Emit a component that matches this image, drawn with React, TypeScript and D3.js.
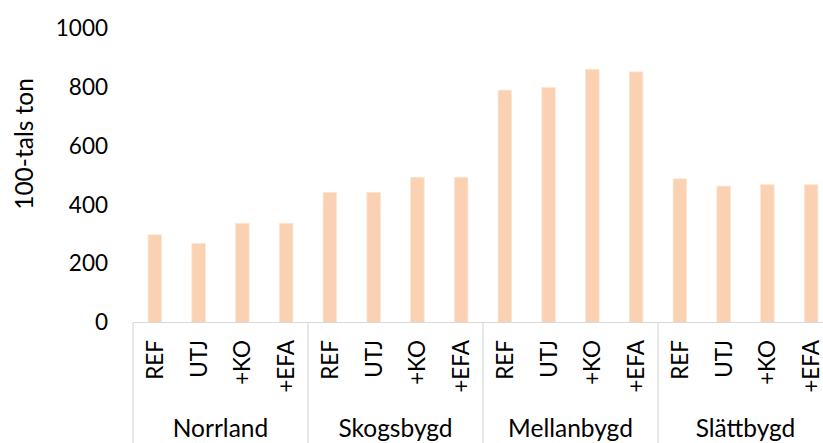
import React from "react";
import * as d3 from "d3";

const groups = ["Norrland", "Skogsbygd", "Mellanbygd", "Slättbygd"];
const scenarios = ["REF", "UTJ", "+KO", "+EFA"];
const norrland = [298, 268, 337, 337];
const skogsbygd = [442, 442, 493, 493];
const mellanbygd = [789, 798, 860, 851];
const slattbygd = [488, 463, 468, 468];
const seriesValues = [norrland, skogsbygd, mellanbygd, slattbygd];
const yTicks = [0, 200, 400, 600, 800, 1000];
const yTitle = "100-tals ton";

const W = 823;
const H = 443;
const FONT = "Lato, 'Open Sans', sans-serif";

export default function App() {
  const left = 133;
  const right = 833;
  const y = d3.scaleLinear().domain([0, 1000]).range([322.5, 28]);
  const keys = groups.flatMap((g) => scenarios.map((s) => `${g}|${s}`));
  const x = d3
    .scaleBand<string>()
    .domain(keys)
    .range([left, right])
    .paddingInner(0.69)
    .paddingOuter(0.345);
  const g = d3.scaleBand<string>().domain(groups).range([left, right]).padding(0);
  const data = groups.flatMap((gr, gi) =>
    scenarios.map((s, si) => ({ key: `${gr}|${s}`, group: gr, scen: s, value: seriesValues[gi][si] }))
  );
  const base = y(0);
  return (
    <div style={{ position: "absolute", left: 0, top: 0 }}>
      <svg width={W} height={H} style={{ display: "block", background: "#fff" }}>
        {data.map((d) => (
          <rect
            key={d.key}
            x={x(d.key)}
            y={y(d.value)}
            width={x.bandwidth()}
            height={base - y(d.value)}
            fill="#FAD2B3"
            stroke="#FDE6D3"
            strokeWidth={0.8}
          />
        ))}
        <line x1={left} x2={W} y1={base} y2={base} stroke="#D9D9D9" strokeWidth={1.2} />
        {groups.map((gr) => (
          <line key={gr} x1={g(gr)} x2={g(gr)} y1={base} y2={H} stroke="#D9D9D9" strokeWidth={1.2} />
        ))}
        {yTicks.map((t) => (
          <text
            key={t}
            x={108}
            y={y(t)}
            dy="0.35em"
            textAnchor="end"
            fontFamily={FONT}
            fontSize={22.5}
            fill="#000"
          >
            {t}
          </text>
        ))}
        <text
          transform={`translate(24,${144}) rotate(-90)`}
          textAnchor="middle"
          dy="0.35em"
          fontFamily={FONT}
          fontSize={24.5}
          fill="#000"
        >
          {yTitle}
        </text>
        {data.map((d) => (
          <text
            key={"l" + d.key}
            transform={`translate(${(x(d.key) as number) + x.bandwidth() / 2},340) rotate(-90)`}
            textAnchor="end"
            dy="0.35em"
            fontFamily={FONT}
            fontSize={22.5}
            fill="#000"
          >
            {d.scen}
          </text>
        ))}
        {groups.map((gr) => (
          <text
            key={"g" + gr}
            x={(g(gr) as number) + g.bandwidth() / 2}
            y={437}
            textAnchor="middle"
            fontFamily={FONT}
            fontSize={24.5}
            fill="#000"
          >
            {gr}
          </text>
        ))}
      </svg>
    </div>
  );
}
